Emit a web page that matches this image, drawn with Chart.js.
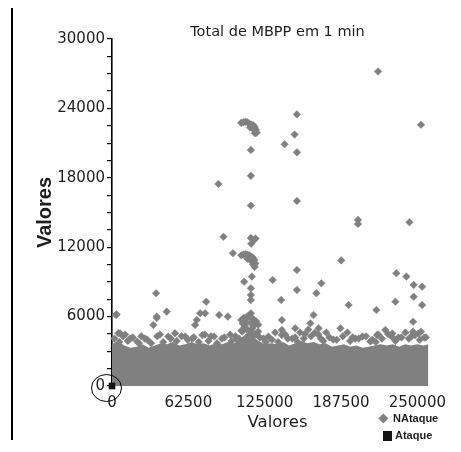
<!DOCTYPE html>
<html>
<head>
<meta charset="utf-8">
<title>Total de MBPP em 1 min</title>
<script src="https://cdn.jsdelivr.net/npm/chart.js@4/dist/chart.umd.min.js"></script>
<style>
  html, body { margin: 0; padding: 0; background: #ffffff; }
  #wrap { width: 461px; height: 452px; position: relative; }
</style>
</head>
<body>
<div id="wrap"><canvas id="chart" width="461" height="452"></canvas></div>
<script>
// Axis ticks
const xTickValues = [0, 62500, 125000, 187500, 250000];
const yTickLabels = [0, 6000, 12000, 18000, 24000, 30000];

// Dense mass of "NAtaque" observations: upper envelope of the solid band
const bandX   = [0, 5000, 10000, 15000, 20000, 25000, 30000, 35000, 40000, 45000, 50000, 55000,
                 60000, 65000, 70000, 75000, 80000, 85000, 90000, 95000, 100000, 105000, 110000,
                 115000, 120000, 125000, 130000, 135000, 140000, 145000, 150000, 155000, 160000,
                 165000, 170000, 175000, 180000, 185000, 190000, 195000, 200000, 205000, 210000,
                 215000, 220000, 225000, 230000, 235000, 240000, 245000, 250000, 255000, 259000];
const bandTop = [3600, 3900, 3500, 3300, 3400, 3600, 3300, 3500, 3700, 3600, 3800, 3500,
                 3600, 3800, 3600, 3700, 3500, 3700, 3600, 3800, 3700, 4100, 4500,
                 4300, 3900, 3600, 3700, 3600, 3800, 3500, 3700, 3900, 3700,
                 3800, 3600, 3700, 3400, 3500, 3600, 3400, 3500, 3300, 3400,
                 3500, 3600, 3500, 3600, 3400, 3600, 3500, 3600, 3500, 3600];

// Individual "NAtaque" observations above the band
const naX = [
  // ragged top of the band
  14800, 27000, 10700, 20500, 39300, 46000, 60000, 65600, 76000, 83600, 90000, 96700, 102500,
  106600, 109000, 114800, 119700, 128000, 133600, 141800, 147600, 154000, 160700, 168900,
  175400, 181200, 192700, 199200, 205000, 211500, 218000, 229500, 234500, 240200, 245100,
  250800, 255700,
  2000, 6000, 9000, 13000, 17000, 22000, 24000, 29000, 32000, 37000, 42000, 48000, 53000,
  57000, 62000, 67000, 71000, 74000, 79000, 81000, 86000, 92000, 98000, 101000, 104000,
  112000, 116000, 124000, 126000, 131000, 136000, 139000, 144000, 150000, 152000, 157000,
  158000, 163000, 166000, 171000, 173000, 178000, 184000, 189000, 195000, 197000, 202000,
  208000, 213000, 216000, 221000, 226000, 232000, 237000, 243000, 248000, 252000, 257000,
  // low outliers
  5200, 6600, 3300, 3800, 33900, 36600, 36600, 36100, 44800, 51600, 68000, 69400, 72200, 76200,
  77100, 87700, 94800, 138500, 139100, 139100, 150000, 162400, 165000, 167300, 169200, 187000,
  193700, 216500, 217000, 223800, 229300, 232000, 246500, 246500, 253000, 247000, 253900,
  // cluster near 110k, 4500-6000
  105800, 108000, 110500, 113000, 115500, 118000, 119700, 117000, 114000, 110000, 107000,
  106000, 110000, 114000, 118000, 121000,
  // column near 114k
  113700, 113700, 113700, 113700, 108200, 114500, 131500, 151400, 171400,
  232800, 241000, 247000, 253900,
  // cluster near 110k, 10000-11500
  105800, 107500, 109200, 110800, 112300, 113800, 115300, 116500, 117300, 116800, 115500,
  114000, 111000, 99000, 151400, 187700,
  // mid outliers
  91300, 113700, 116000, 117500, 114000, 113700, 201400, 201400, 243500, 151400, 87100,
  113700, 113700, 141300, 151400, 149500, 151400, 253000, 217800,
  // cluster near 112k, 22000-23000
  105800, 107500, 109200, 110800, 112300, 113800, 115500, 116800, 117800, 118500, 117000,
  115800, 113000
];
const naY = [
  4100, 4100, 4450, 3850, 4450, 4280, 4280, 4100, 4450, 4280, 4100, 4450, 4020,
  4710, 5140, 4970, 4710, 4280, 4620, 4450, 4100, 4620, 4880, 4450,
  4620, 4020, 4620, 4100, 4280, 3850, 4450, 4540, 4190, 4620, 4280,
  4540, 4190,
  4100, 3800, 4300, 3900, 4200, 3700, 4300, 4000, 3700, 4300, 3800, 4100, 3900,
  4300, 4000, 4200, 3800, 4400, 3900, 4300, 3700, 4200, 3900, 4300, 4100,
  4400, 4300, 4100, 3800, 4000, 3800, 4400, 4100, 4200, 3800, 4100,
  4500, 4300, 4600, 4100, 3900, 4200, 4000, 4300, 3900, 4200, 4100,
  4300, 4000, 3800, 4100, 4500, 3900, 4200, 4100, 4400, 4000, 4200,
  4560, 4560, 6140, 6200, 5280, 6000, 5880, 8020, 6430, 4560, 5280, 5710, 6290, 6290,
  7290, 6140, 6000, 7440, 5710, 4840, 4990, 5420, 6140, 8020, 4990, 4990,
  7000, 6570, 4410, 4840, 4260, 7290, 5560, 4700, 4700, 7720, 7000,
  5700, 5900, 6000, 5900, 5800, 5600, 5300, 5300, 5400, 5500, 5400,
  4800, 4900, 4700, 4500, 4200,
  8450, 7870, 7440, 6290, 9020, 9460, 9170, 8300, 8880,
  9750, 9460, 8740, 8590,
  11300, 11350, 11400, 11350, 11300, 11200, 11100, 10900, 10600, 10300, 10500,
  10800, 11000, 11480, 10030, 10860,
  12900, 12800, 12600, 12750, 12300, 15600, 14360, 14010, 14160, 16000, 17470,
  18170, 20400, 20900, 20200, 21740, 23480, 22580, 27190,
  22750, 22800, 22850, 22800, 22700, 22600, 22550, 22400, 22150, 21900, 21850,
  22200, 22350
];

// "Ataque" observations
const atX = [0];
const atY = [0];

const GRAY = '#808080';
const BLACK = '#141414';
const TEXT = '#1e1e1e';

const toPoints = (xs, ys) => xs.map((x, i) => ({ x: x, y: ys[i] }));

// Circle drawn round the origin, where the Ataque observations sit
const originRing = {
  id: 'originRing',
  afterDatasetsDraw(chart) {
    const { ctx, scales } = chart;
    const cx = scales.x.getPixelForValue(0) - 5.5;
    const cy = scales.y.getPixelForValue(0) + 2;
    ctx.save();
    ctx.beginPath();
    ctx.ellipse(cx, cy, 15, 13.5, 0, 0, Math.PI * 2);
    ctx.strokeStyle = '#000';
    ctx.lineWidth = 1;
    ctx.stroke();
    ctx.restore();
  }
};

// Small legend in the lower right corner and the page rule on the left
const sideDecor = {
  id: 'sideDecor',
  afterDraw(chart) {
    const { ctx } = chart;
    const ds = chart.data.datasets;
    ctx.save();
    ctx.fillStyle = '#000';
    ctx.fillRect(11, 8, 2, 432);

    ctx.font = 'bold 11px "Liberation Sans", Arial, sans-serif';
    ctx.textBaseline = 'middle';
    ctx.textAlign = 'left';

    // diamond entry
    const d = ds[1];
    ctx.fillStyle = d.backgroundColor;
    ctx.beginPath();
    ctx.moveTo(383.3, 413.5);
    ctx.lineTo(388.3, 418.5);
    ctx.lineTo(383.3, 423.5);
    ctx.lineTo(378.3, 418.5);
    ctx.closePath();
    ctx.fill();
    ctx.fillStyle = TEXT;
    ctx.fillText(d.label, 393, 419);

    // square entry
    const a = ds[0];
    ctx.fillStyle = a.backgroundColor;
    ctx.fillRect(383, 431, 9, 10);
    ctx.fillStyle = TEXT;
    ctx.fillText(a.label, 395, 436);
    ctx.restore();
  }
};

const tickFont = { family: '"DejaVu Sans", sans-serif', size: 15 };

new Chart(document.getElementById('chart'), {
  type: 'scatter',
  data: {
    datasets: [
      {
        label: 'Ataque',
        data: toPoints(atX, atY),
        pointStyle: 'rect',
        pointRadius: 4.7,
        backgroundColor: BLACK,
        borderColor: BLACK,
        borderWidth: 0,
        clip: false
      },
      {
        label: 'NAtaque',
        data: toPoints(naX, naY),
        pointStyle: 'rectRot',
        pointRadius: 3.8,
        backgroundColor: GRAY,
        borderColor: GRAY,
        borderWidth: 0.5,
        clip: false
      },
      {
        label: 'NAtaque',
        data: toPoints(bandX, bandTop),
        showLine: true,
        fill: 'origin',
        pointRadius: 0,
        borderWidth: 0,
        borderColor: GRAY,
        backgroundColor: GRAY,
        tension: 0,
        clip: false
      }
    ]
  },
  options: {
    responsive: false,
    animation: false,
    events: [],
    layout: { padding: { left: 0, right: 18, top: 0, bottom: 0 } },
    plugins: {
      legend: { display: false },
      tooltip: { enabled: false },
      title: {
        display: true,
        text: 'Total de MBPP em 1 min',
        fullSize: false,
        color: TEXT,
        font: { family: '"DejaVu Sans", sans-serif', size: 14.5, weight: 'normal', lineHeight: 1 },
        padding: { top: 24.5, bottom: 0 }
      }
    },
    scales: {
      x: {
        type: 'linear',
        min: 0,
        max: 271000,
        afterBuildTicks: (scale) => { scale.ticks = xTickValues.map(v => ({ value: v })); },
        afterFit: (scale) => { scale.height = 66; },
        grid: { display: false, drawTicks: false },
        border: { display: false },
        ticks: {
          color: TEXT,
          font: tickFont,
          padding: 8,
          maxRotation: 0,
          autoSkip: false,
          callback: (v) => String(v)
        },
        title: {
          display: true,
          text: 'Valores',
          color: TEXT,
          font: { family: '"DejaVu Sans", sans-serif', size: 16.5 },
          padding: { top: 0, bottom: 19 }
        }
      },
      y: {
        type: 'linear',
        min: 0,
        max: 30000,
        afterFit: (scale) => { scale.width = 112; },
        grid: { drawOnChartArea: false, drawTicks: true, tickLength: 5, color: '#000', lineWidth: 1.2 },
        border: { display: true, color: '#000', width: 1.6 },
        ticks: {
          stepSize: 1500,
          autoSkip: false,
          color: TEXT,
          font: tickFont,
          padding: 2,
          callback: (v) => (yTickLabels.includes(v) ? String(v) : '')
        },
        title: {
          display: true,
          text: 'Valores',
          color: TEXT,
          font: { family: '"Liberation Sans", Arial, sans-serif', size: 20, weight: 'bold' },
          padding: { top: 33, bottom: 0 }
        }
      }
    }
  },
  plugins: [originRing, sideDecor]
});
</script>
</body>
</html>
